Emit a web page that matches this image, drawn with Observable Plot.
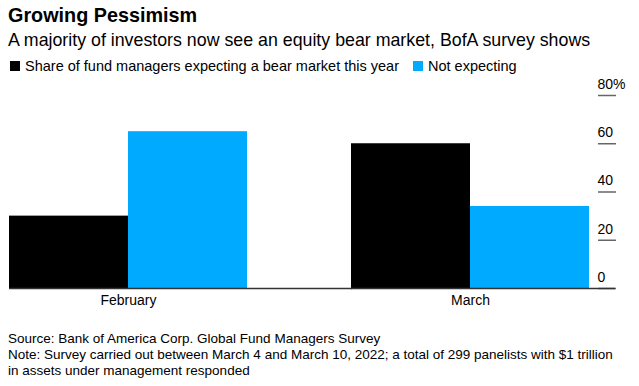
<!DOCTYPE html>
<html>
<head>
<meta charset="utf-8">
<script src="https://cdn.jsdelivr.net/npm/d3@7"></script>
<script src="https://cdn.jsdelivr.net/npm/@observablehq/plot@0.6"></script>
<style>
  html, body { margin: 0; padding: 0; background: #fff; }
  body { font-family: "Liberation Sans", Arial, sans-serif; color: #000; }
  #head { position: relative; height: 76px; width: 639px; }
  .abs { position: absolute; left: 8px; white-space: nowrap; }
  #title { top: 3px; font-size: 19.8px; font-weight: bold; line-height: 24px; }
  #subtitle { top: 28px; font-size: 17.8px; line-height: 24px; }
  #legend { top: 57px; font-size: 14.5px; line-height: 18px; display: flex; align-items: center; }
  .sw { display: inline-block; width: 10px; height: 10px; margin-right: 5px; margin-left: 2px; }
  .item { display: inline-flex; align-items: center; margin-right: 12px; }
  #chart { width: 639px; height: 242px; }
  #chart svg { max-width: none; }
  #footer { padding: 13px 0 0 8px; font-size: 13.5px; line-height: 16px; white-space: nowrap; }
</style>
</head>
<body>
<div id="head">
  <div id="title" class="abs">Growing Pessimism</div>
  <div id="subtitle" class="abs">A majority of investors now see an equity bear market, BofA survey shows</div>
  <div id="legend" class="abs"></div>
</div>
<div id="chart"></div>
<div id="footer">Source: Bank of America Corp. Global Fund Managers Survey<br>Note: Survey carried out between March 4 and March 10, 2022; a total of 299 panelists with $1 trillion<br>in assets under management responded</div>
<script>
const months = ["February", "March"];
const seriesNames = ["Share of fund managers expecting a bear market this year", "Not expecting"];
const seriesColors = ["#000000", "#00aaff"];
const bearValues = [30, 60];
const notExpectingValues = [65, 34];
const yTicks = [0, 20, 40, 60, 80];

const data = months.flatMap((m, i) => [
  {month: m, series: seriesNames[0], value: bearValues[i]},
  {month: m, series: seriesNames[1], value: notExpectingValues[i]}
]);

// legend
const legend = document.getElementById("legend");
seriesNames.forEach((s, i) => {
  const it = document.createElement("span");
  it.className = "item";
  const sw = document.createElement("span");
  sw.className = "sw";
  sw.style.background = seriesColors[i];
  it.appendChild(sw);
  it.appendChild(document.createTextNode(s));
  legend.appendChild(it);
});

const chart = Plot.plot({
  width: 639,
  height: 242,
  marginLeft: 9,
  marginRight: 50,
  marginTop: 19,
  marginBottom: 30,
  style: {fontSize: "14px", fontFamily: "'Liberation Sans', Arial, sans-serif"},
  fx: {domain: months, paddingInner: 0.305, paddingOuter: 0, label: null, axis: null},
  x: {domain: seriesNames, padding: 0, axis: null},
  y: {domain: [0, 80], axis: null},
  color: {domain: seriesNames, range: seriesColors},
  marks: [
    Plot.barY(data, {fx: "month", x: "series", y: "value", fill: "series"}),
    Plot.axisY({anchor: "right", ticks: yTicks, tickSize: 18, dx: 8, stroke: "#666", strokeWidth: 1.5, tickFormat: () => "", label: null}),
    Plot.ruleY([{month: months[0]}], {fx: "month", y: 0, stroke: "#333", strokeWidth: 1.3, insetRight: -105}),
    Plot.ruleY([{month: months[1]}], {fx: "month", y: 0, stroke: "#333", strokeWidth: 1.3, insetRight: -26}),
    Plot.axisY({anchor: "right", ticks: yTicks, tickSize: 0, tickPadding: 8, dy: -11, fill: "#000", textAnchor: "start",
      tickFormat: d => d === 80 ? "80%" : String(d), label: null}),
    Plot.axisFx({anchor: "bottom", tickSize: 0, tickPadding: 7, fill: "#000", label: null})
  ]
});
document.getElementById("chart").appendChild(chart);
</script>
</body>
</html>
